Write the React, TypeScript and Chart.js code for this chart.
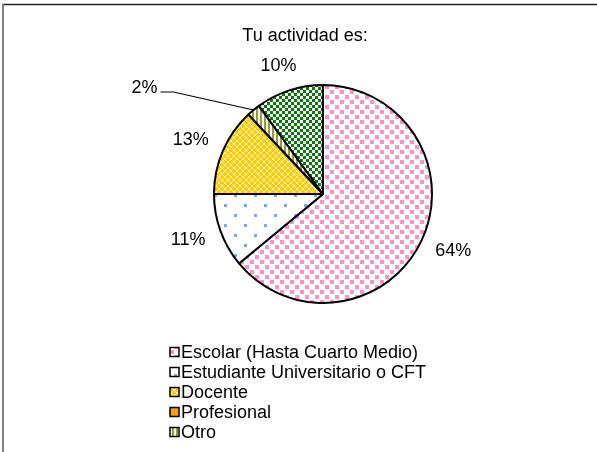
import React, { useEffect, useRef } from 'react';
import { Chart, registerables } from 'chart.js';

Chart.register(...registerables);

const TITLE = 'Tu actividad es:';
const categories = [
  'Escolar (Hasta Cuarto Medio)',
  'Estudiante Universitario o CFT',
  'Docente',
  'Profesional',
  'Otro',
  'Sin dato',
];
const values = [64, 11, 13, 0, 2, 10];
const percentLabels = ['64%', '11%', '13%', '', '2%', '10%'];
const LEGEND_COUNT = 5;

const FONT = '"Liberation Sans", Arial, sans-serif';

function tile(w: number, h: number, draw: (c: CanvasRenderingContext2D) => void): CanvasPattern {
  const cv = document.createElement('canvas');
  cv.width = w;
  cv.height = h;
  const c = cv.getContext('2d')!;
  draw(c);
  const ctx = document.createElement('canvas').getContext('2d')!;
  return ctx.createPattern(cv, 'repeat')!;
}

function makePatterns(): (CanvasPattern | string)[] {
  const pink = tile(10, 10, (c) => {
    c.fillStyle = '#ffffff';
    c.fillRect(0, 0, 10, 10);
    c.fillStyle = '#ff8fc8';
    c.fillRect(0, 0, 4, 4);
    c.fillRect(5, 5, 4, 4);
  });
  const blue = tile(20, 20, (c) => {
    c.fillStyle = '#ffffff';
    c.fillRect(0, 0, 20, 20);
    c.fillStyle = '#80a8dc';
    c.fillRect(4, 4, 3, 3);
    c.fillRect(14, 14, 3, 3);
  });
  const yellow = tile(6, 6, (c) => {
    c.fillStyle = '#ffcc00';
    c.fillRect(0, 0, 6, 6);
    c.fillStyle = '#fff2bf';
    for (let i = 0; i < 6; i++) {
      c.fillRect(i, i, 1, 1);
      c.fillRect(5 - i, i, 1, 1);
    }
  });
  const olive = tile(4, 4, (c) => {
    c.fillStyle = '#ffffff';
    c.fillRect(0, 0, 4, 4);
    c.fillStyle = '#999933';
    c.fillRect(0, 0, 2, 4);
  });
  const green = tile(6, 6, (c) => {
    c.fillStyle = '#008000';
    c.fillRect(0, 0, 6, 6);
    c.fillStyle = '#ffffff';
    c.fillRect(0, 0, 3, 3);
    c.fillRect(3, 3, 3, 3);
  });
  return [pink, blue, yellow, '#ff9900', olive, green];
}

const overlayPlugin = {
  id: 'overlay',
  afterDraw(chart: any) {
    const ctx: CanvasRenderingContext2D = chart.ctx;
    const W = chart.width;
    const H = chart.height;
    ctx.save();
    // frame
    ctx.strokeStyle = '#222222';
    ctx.lineWidth = 1.5;
    ctx.beginPath();
    ctx.moveTo(2, 4.5);
    ctx.lineTo(W, 4.5);
    ctx.stroke();
    ctx.strokeStyle = '#808080';
    ctx.lineWidth = 2;
    ctx.beginPath();
    ctx.moveTo(3, 4);
    ctx.lineTo(3, H);
    ctx.stroke();

    // title
    ctx.fillStyle = '#000';
    ctx.font = `18px ${FONT}`;
    ctx.textAlign = 'center';
    ctx.textBaseline = 'middle';
    ctx.fillText(TITLE, 305, 36);

    // percent labels
    const meta = chart.getDatasetMeta(0);
    ctx.font = `18px ${FONT}`;
    meta.data.forEach((arc: any, i: number) => {
      const txt = percentLabels[i];
      if (!txt || !values[i]) return;
      const { x, y, startAngle, endAngle, outerRadius } = arc.getProps(
        ['x', 'y', 'startAngle', 'endAngle', 'outerRadius'],
        true
      );
      const mid = (startAngle + endAngle) / 2;
      const dx = Math.cos(mid);
      const dy = Math.sin(mid);
      if (values[i] < 5) {
        const ex = x + dx * outerRadius;
        const ey = y + dy * outerRadius;
        const bx = ex - 80;
        const by = ey - 18;
        ctx.strokeStyle = '#000';
        ctx.lineWidth = 1.2;
        ctx.beginPath();
        ctx.moveTo(ex, ey);
        ctx.lineTo(bx, by);
        ctx.lineTo(bx - 13, by);
        ctx.stroke();
        ctx.textAlign = 'right';
        ctx.fillText(txt, bx - 16, by - 4);
        ctx.textAlign = 'center';
      } else {
        const hw = ctx.measureText(txt).width / 2;
        const hh = 9;
        const gap = 17;
        const ex = x + dx * outerRadius;
        const ey = y + dy * outerRadius;
        ctx.fillText(txt, ex + dx * gap + dx * hw, ey + dy * gap + dy * hh);
      }
    });

    // legend
    const bg = chart.data.datasets[0].backgroundColor;
    ctx.font = `18px ${FONT}`;
    ctx.textAlign = 'left';
    for (let i = 0; i < LEGEND_COUNT; i++) {
      const cy = 352 + i * 20;
      ctx.fillStyle = bg[i];
      ctx.fillRect(170, cy - 4.5, 9, 9);
      ctx.strokeStyle = '#000';
      ctx.lineWidth = 1.5;
      ctx.strokeRect(170, cy - 4.5, 9, 9);
      ctx.fillStyle = '#000';
      ctx.fillText(categories[i], 181, cy + 1);
    }
    ctx.restore();
  },
};

export default function App() {
  const ref = useRef<HTMLCanvasElement>(null);
  useEffect(() => {
    const chart = new Chart(ref.current!, {
      type: 'pie',
      data: {
        labels: categories,
        datasets: [
          {
            data: values,
            backgroundColor: makePatterns() as any,
            borderColor: '#000000',
            borderWidth: 2,
          },
        ],
      },
      options: {
        animation: false,
        responsive: false,
        maintainAspectRatio: false,
        layout: { padding: { left: 213, top: 84, right: 164, bottom: 148 } },
        plugins: {
          legend: { display: false },
          tooltip: { enabled: false },
          title: { display: false },
        },
      },
      plugins: [overlayPlugin],
    });
    return () => chart.destroy();
  }, []);
  return (
    <div style={{ position: 'fixed', left: 0, top: 0, width: 597, height: 452, background: '#fff' }}>
      <canvas ref={ref} width={597} height={452} style={{ display: 'block' }} />
    </div>
  );
}
